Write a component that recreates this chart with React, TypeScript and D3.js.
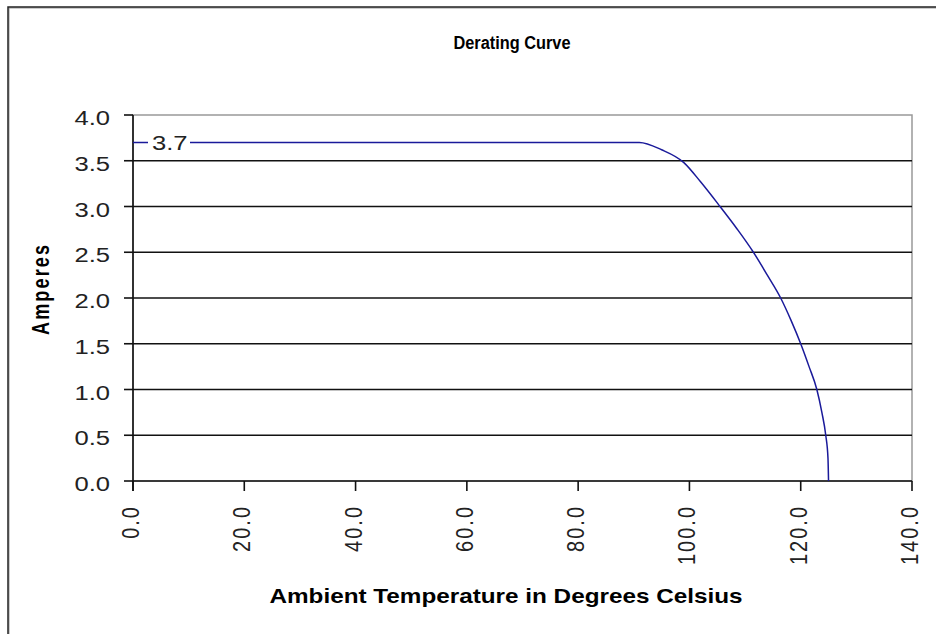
import * as d3 from "d3";

// derating data
const temps = [0, 91, 95, 99, 102, 105.5, 108.5, 111.5, 114, 116.4, 118.3, 120, 121.5, 122.9, 123.8, 124.5, 124.9, 125];
const amps = [3.7, 3.7, 3.62, 3.48, 3.27, 3.0, 2.76, 2.5, 2.25, 2.0, 1.75, 1.5, 1.25, 1.0, 0.75, 0.5, 0.25, 0];
const xTicks = [0, 20, 40, 60, 80, 100, 120, 140];
const yTicks = [0, 0.5, 1, 1.5, 2, 2.5, 3, 3.5, 4];

const title = "Derating Curve";
const xTitle = "Ambient Temperature in Degrees Celsius";
const yTitle = "Amperes";
const peakLabel = "3.7";

const W = 936;
const H = 634;
const plot = { left: 133, right: 912, top: 115, bottom: 481 };
const sx = 1.28; // text in the picture is stretched sideways
const font = "Arial, 'Liberation Sans', sans-serif";

export default function App() {
  const x = d3.scaleLinear().domain([0, 140]).range([plot.left, plot.right]);
  const y = d3.scaleLinear().domain([0, 4]).range([plot.bottom, plot.top]);

  const pts = temps.map((t, i) => [t, amps[i]] as [number, number]);
  const line = d3
    .line<[number, number]>()
    .x((d) => x(d[0]))
    .y((d) => y(d[1]))
    .curve(d3.curveMonotoneX);

  const yPeak = y(amps[0]);

  return (
    <svg
      width={W}
      height={H}
      style={{ position: "absolute", left: 0, top: 0, background: "#fff" }}
    >
      {/* outer chart frame, runs off the right and bottom */}
      <rect x={9} y={8} width={1000} height={1000} fill="none" stroke="#999" strokeWidth={1} />
      <rect x={8} y={7} width={1000} height={1000} fill="none" stroke="#222" strokeWidth={1.5} />

      <text
        x={512}
        y={49}
        textAnchor="middle"
        fontFamily={font}
        fontWeight="bold"
        fontSize={18}
        textLength={117}
        lengthAdjust="spacingAndGlyphs"
        fill="#000"
      >
        {title}
      </text>

      {/* plot area */}
      <rect
        x={plot.left}
        y={plot.top}
        width={plot.right - plot.left}
        height={plot.bottom - plot.top}
        fill="#fff"
        stroke="#999"
        strokeWidth={1.5}
      />

      {yTicks
        .filter((v) => v > 0 && v < 4)
        .map((v) => (
          <line
            key={"g" + v}
            x1={plot.left}
            x2={plot.right}
            y1={y(v)}
            y2={y(v)}
            stroke="#111"
            strokeWidth={1.6}
          />
        ))}

      {/* axes */}
      <line x1={plot.left} x2={plot.right} y1={plot.bottom} y2={plot.bottom} stroke="#111" strokeWidth={1.6} />
      <line x1={plot.left} x2={plot.left} y1={plot.top} y2={plot.bottom + 10} stroke="#111" strokeWidth={1.6} />

      {yTicks.map((v) => (
        <g key={"y" + v}>
          <line x1={plot.left - 9} x2={plot.left} y1={y(v)} y2={y(v)} stroke="#111" strokeWidth={1.6} />
          <g transform={`translate(110,${y(v) + 10}) scale(${sx},1)`}>
            <text textAnchor="end" fontFamily={font} fontSize={20} fill="#222">
              {v.toFixed(1)}
            </text>
          </g>
        </g>
      ))}

      {xTicks.map((v) => (
        <g key={"x" + v}>
          <line x1={x(v)} x2={x(v)} y1={plot.bottom} y2={plot.bottom + 10} stroke="#111" strokeWidth={1.6} />
          <g transform={`translate(${x(v) + 6},505) scale(1.2,1) rotate(-90)`}>
            <text textAnchor="end" fontFamily={font} fontSize={20} letterSpacing={2} fill="#222">
              {v.toFixed(1)}
            </text>
          </g>
        </g>
      ))}

      <path d={line(pts) ?? ""} fill="none" stroke="#1a1a9a" strokeWidth={1.5} />

      {/* data label over the flat part */}
      <rect x={148} y={yPeak - 11} width={42} height={22} fill="#fff" />
      <g transform={`translate(152,${yPeak + 8}) scale(${sx},1)`}>
        <text fontFamily={font} fontSize={20} fill="#222">
          {peakLabel}
        </text>
      </g>

      <g transform={`translate(49,290) scale(${sx},1) rotate(-90)`}>
        <text
          textAnchor="middle"
          fontFamily={font}
          fontWeight="bold"
          fontSize={18}
          textLength={90}
          lengthAdjust="spacing"
          fill="#000"
        >
          {yTitle}
        </text>
      </g>

      <text
        x={506}
        y={603}
        textAnchor="middle"
        fontFamily={font}
        fontWeight="bold"
        fontSize={21}
        textLength={473}
        lengthAdjust="spacingAndGlyphs"
        fill="#000"
      >
        {xTitle}
      </text>
    </svg>
  );
}
